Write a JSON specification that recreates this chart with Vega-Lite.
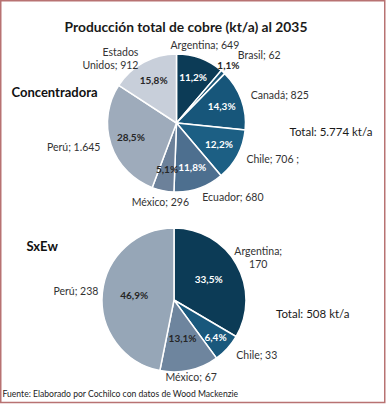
{
  "$schema": "https://vega.github.io/schema/vega-lite/v6.json",
  "width": 386,
  "height": 404,
  "autosize": {"type": "none"},
  "padding": 0,
  "background": "white",
  "config": {"view": {"stroke": null}, "font": "Lato"},
  "title": {
    "text": "Producción total de cobre (kt/a) al 2035",
    "fontSize": 13.8,
    "fontWeight": "bold",
    "color": "#1a1a1a",
    "anchor": "middle",
    "frame": "group",
    "offset": 0,
    "dx": -7,
    "dy": 35
  },
  "datasets": {
    "conc": [
      {"pais": "Argentina", "valor": 649, "orden": 1, "etiqueta": "Argentina; 649", "pct": "11,2%", "grupo": "Concentradora"},
      {"pais": "Brasil", "valor": 62, "orden": 2, "etiqueta": "Brasil; 62", "pct": "1,1%", "grupo": "Concentradora"},
      {"pais": "Canadá", "valor": 825, "orden": 3, "etiqueta": "Canadá; 825", "pct": "14,3%", "grupo": "Concentradora"},
      {"pais": "Chile", "valor": 706, "orden": 4, "etiqueta": "Chile; 706 ;", "pct": "12,2%", "grupo": "Concentradora"},
      {"pais": "Ecuador", "valor": 680, "orden": 5, "etiqueta": "Ecuador; 680", "pct": "11,8%", "grupo": "Concentradora"},
      {"pais": "México", "valor": 296, "orden": 6, "etiqueta": "México; 296", "pct": "5,1%", "grupo": "Concentradora"},
      {"pais": "Perú", "valor": 1645, "orden": 7, "etiqueta": "Perú; 1.645", "pct": "28,5%", "grupo": "Concentradora"},
      {"pais": "Estados Unidos", "valor": 912, "orden": 8, "etiqueta": "Estados\nUnidos; 912", "pct": "15,8%", "grupo": "Concentradora"}
    ],
    "sxew": [
      {"pais": "Argentina", "valor": 170, "orden": 1, "etiqueta": "Argentina;\n170", "pct": "33,5%", "grupo": "SxEw"},
      {"pais": "Chile", "valor": 33, "orden": 2, "etiqueta": "Chile; 33", "pct": "6,4%", "grupo": "SxEw"},
      {"pais": "México", "valor": 67, "orden": 3, "etiqueta": "México; 67", "pct": "13,1%", "grupo": "SxEw"},
      {"pais": "Perú", "valor": 238, "orden": 4, "etiqueta": "Perú; 238", "pct": "46,9%", "grupo": "SxEw"}
    ]
  },
  "layer": [
    {
      "data": {"values": [{}]},
      "mark": {"type": "rect", "x": 0.75, "y": 0.75, "x2": 384.75, "y2": 402.5, "fill": null, "fillOpacity": 0, "stroke": "#b87272", "strokeWidth": 1.5}
    },
    {
      "data": {"name": "conc"},
      "encoding": {
        "theta": {"field": "valor", "type": "quantitative", "stack": true},
        "order": {"field": "orden", "type": "quantitative"},
        "detail": {"field": "pais", "type": "nominal"},
        "x": {"field": "grupo", "type": "nominal", "scale": {"type": "point", "domain": ["Concentradora", "SxEw"], "range": [176.5, 174], "padding": 0}, "axis": null},
        "y": {"field": "grupo", "type": "nominal", "scale": {"type": "point", "domain": ["Concentradora", "SxEw"], "range": [123, 300], "padding": 0}, "axis": null}
      },
      "layer": [
        {
          "mark": {"type": "arc", "outerRadius": 69, "stroke": "white", "strokeWidth": 1.5},
          "encoding": {
            "color": {"field": "pais", "type": "nominal", "legend": null,
              "scale": {"domain": ["Argentina", "Brasil", "Canadá", "Chile", "Ecuador", "México", "Perú", "Estados Unidos"],
                        "range": ["#0c3b56", "#1a5678", "#17567a", "#1c5f84", "#4d6f8f", "#6c819a", "#9eabbb", "#c8cfda"]}}
          }
        },
        {
          "mark": {"type": "text", "radius": 48, "fontSize": 10, "fontWeight": "bold", "align": "center", "baseline": "middle"},
          "encoding": {
            "text": {"field": "pct", "type": "nominal"},
            "opacity": {"condition": {"test": "datum.pais !== 'Brasil'", "value": 1}, "value": 0},
            "color": {"condition": {"test": "indexof(['Argentina','Canadá','Chile','Ecuador'], datum.pais) >= 0", "value": "white"}, "value": "#262626"}
          }
        },
        {
          "mark": {"type": "text", "radius": 77, "fontSize": 10, "fontWeight": "bold", "align": "center", "baseline": "middle", "color": "#262626"},
          "encoding": {
            "text": {"field": "pct", "type": "nominal"},
            "opacity": {"condition": {"test": "datum.pais === 'Brasil'", "value": 1}, "value": 0}
          }
        },
        {
          "mark": {"type": "text", "radius": 82, "fontSize": 10.5, "align": "center", "baseline": "middle", "color": "#333333"},
          "encoding": {
            "text": {"field": "etiqueta", "type": "nominal"},
            "opacity": {"condition": {"test": "indexof(['Argentina','México'], datum.pais) >= 0", "value": 1}, "value": 0}
          }
        },
        {
          "mark": {"type": "text", "radius": 79, "fontSize": 10.5, "align": "left", "baseline": "middle", "color": "#333333"},
          "encoding": {
            "text": {"field": "etiqueta", "type": "nominal"},
            "opacity": {"condition": {"test": "indexof(['Canadá','Chile','Ecuador'], datum.pais) >= 0", "value": 1}, "value": 0}
          }
        },
        {
          "mark": {"type": "text", "radius": 91, "fontSize": 10.5, "align": "left", "baseline": "middle", "color": "#333333"},
          "encoding": {
            "text": {"field": "etiqueta", "type": "nominal"},
            "opacity": {"condition": {"test": "datum.pais === 'Brasil'", "value": 1}, "value": 0}
          }
        },
        {
          "mark": {"type": "text", "radius": 80, "fontSize": 10.5, "align": "right", "baseline": "middle", "lineBreak": "\n", "lineHeight": 13, "color": "#333333"},
          "encoding": {
            "text": {"field": "etiqueta", "type": "nominal"},
            "opacity": {"condition": {"test": "indexof(['Perú','Estados Unidos'], datum.pais) >= 0", "value": 1}, "value": 0}
          }
        }
      ]
    },
    {
      "data": {"name": "sxew"},
      "encoding": {
        "theta": {"field": "valor", "type": "quantitative", "stack": true},
        "order": {"field": "orden", "type": "quantitative"},
        "detail": {"field": "pais", "type": "nominal"},
        "x": {"field": "grupo", "type": "nominal", "scale": {"type": "point", "domain": ["Concentradora", "SxEw"], "range": [176.5, 174], "padding": 0}, "axis": null},
        "y": {"field": "grupo", "type": "nominal", "scale": {"type": "point", "domain": ["Concentradora", "SxEw"], "range": [123, 300], "padding": 0}, "axis": null}
      },
      "layer": [
        {
          "mark": {"type": "arc", "outerRadius": 72, "stroke": "white", "strokeWidth": 1.5},
          "encoding": {
            "color": {"field": "pais", "type": "nominal", "legend": null,
              "scale": {"domain": ["Argentina", "Chile", "México", "Perú"],
                        "range": ["#0c3b56", "#19587c", "#6e859e", "#96a6b7"]}}
          }
        },
        {
          "mark": {"type": "text", "radius": 40, "fontSize": 10, "fontWeight": "bold", "align": "center", "baseline": "middle"},
          "encoding": {
            "text": {"field": "pct", "type": "nominal"},
            "opacity": {"condition": {"test": "datum.pais !== 'Chile'", "value": 1}, "value": 0},
            "color": {"condition": {"test": "datum.pais === 'Argentina'", "value": "white"}, "value": "#262626"}
          }
        },
        {
          "mark": {"type": "text", "radius": 56, "fontSize": 10, "fontWeight": "bold", "align": "center", "baseline": "middle", "color": "white"},
          "encoding": {
            "text": {"field": "pct", "type": "nominal"},
            "opacity": {"condition": {"test": "datum.pais === 'Chile'", "value": 1}, "value": 0}
          }
        },
        {
          "mark": {"type": "text", "radius": 97, "fontSize": 10.5, "align": "center", "baseline": "middle", "lineBreak": "\n", "lineHeight": 13, "color": "#333333"},
          "encoding": {
            "text": {"field": "etiqueta", "type": "nominal"},
            "opacity": {"condition": {"test": "datum.pais === 'Argentina'", "value": 1}, "value": 0}
          }
        },
        {
          "mark": {"type": "text", "radius": 80, "fontSize": 10.5, "align": "center", "baseline": "middle", "color": "#333333"},
          "encoding": {
            "text": {"field": "etiqueta", "type": "nominal"},
            "opacity": {"condition": {"test": "datum.pais === 'México'", "value": 1}, "value": 0}
          }
        },
        {
          "mark": {"type": "text", "radius": 84, "fontSize": 10.5, "align": "left", "baseline": "middle", "color": "#333333"},
          "encoding": {
            "text": {"field": "etiqueta", "type": "nominal"},
            "opacity": {"condition": {"test": "datum.pais === 'Chile'", "value": 1}, "value": 0}
          }
        },
        {
          "mark": {"type": "text", "radius": 76, "fontSize": 10.5, "align": "right", "baseline": "middle", "color": "#333333"},
          "encoding": {
            "text": {"field": "etiqueta", "type": "nominal"},
            "opacity": {"condition": {"test": "datum.pais === 'Perú'", "value": 1}, "value": 0}
          }
        }
      ]
    },
    {
      "data": {"values": [{}]},
      "mark": {"type": "text", "text": "Concentradora", "x": 11.5, "y": 93, "align": "left", "baseline": "middle", "fontSize": 13, "fontWeight": "bold", "color": "#111111"}
    },
    {
      "data": {"values": [{}]},
      "mark": {"type": "text", "text": "Total: 5.774 kt/a", "x": 289.5, "y": 133, "align": "left", "baseline": "middle", "fontSize": 11.5, "color": "#1a1a1a"}
    },
    {
      "data": {"values": [{}]},
      "mark": {"type": "text", "text": "SxEw", "x": 26.5, "y": 246.5, "align": "left", "baseline": "middle", "fontSize": 13, "fontWeight": "bold", "color": "#111111"}
    },
    {
      "data": {"values": [{}]},
      "mark": {"type": "text", "text": "Total: 508 kt/a", "x": 276, "y": 315, "align": "left", "baseline": "middle", "fontSize": 11.5, "color": "#1a1a1a"}
    },
    {
      "data": {"values": [{}]},
      "mark": {"type": "text", "text": "Fuente: Elaborado por Cochilco con datos de Wood Mackenzie", "x": 2.5, "y": 394, "align": "left", "baseline": "middle", "fontSize": 8.6, "color": "#222222"}
    }
  ],
  "resolve": {"scale": {"theta": "independent", "color": "independent"}}
}
